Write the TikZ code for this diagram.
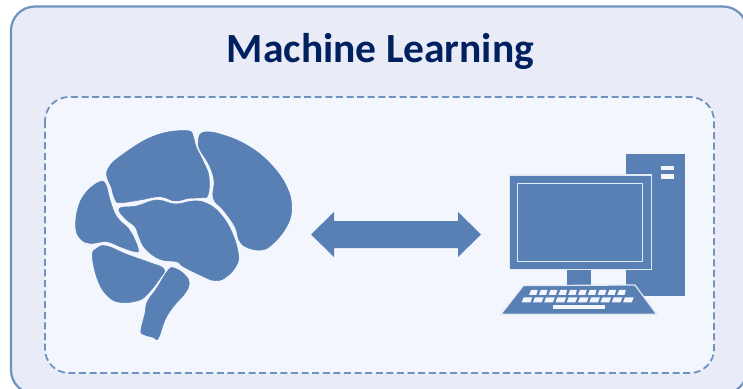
\documentclass[tikz,border=0pt]{standalone}
\usepackage{fontspec}
\setmainfont{Carlito}
\definecolor{outerfill}{HTML}{E9EBF6}
\definecolor{innerfill}{HTML}{F3F6FC}
\definecolor{linecol}{HTML}{6F93C0}
\definecolor{shapecol}{HTML}{5880B5}
\definecolor{lightline}{HTML}{E2E9F4}
\definecolor{titlecol}{HTML}{002060}
\tikzset{
  outerbox/.style={draw=linecol,fill=outerfill,line width=2.2pt,rounded corners=24pt},
  innerbox/.style={draw=linecol,fill=innerfill,line width=1.8pt,dash pattern=on 7pt off 3.6pt,rounded corners=24pt},
  part/.style={fill=shapecol,draw=none},
  keycap/.style={fill=innerfill,draw=none},
  lightedge/.style={draw=lightline,line width=1.2pt},
  lobe/.style={fill=shapecol,draw=shapecol,line width=.5pt},
}
\begin{document}
\begin{tikzpicture}[x=1pt,y=-1pt]
\useasboundingbox (0,0) rectangle (743,388);
\fill[white] (0,0) rectangle (743,388);
\begin{scope}
\clip (0,0) rectangle (743,388);
\draw[outerbox] (11,6.5) rectangle (747,394);
\draw[innerbox] (45,97) rectangle (714,373);
\end{scope}
\node (title) [text=titlecol,font=\bfseries\fontsize{41.5}{46}\selectfont,inner sep=0pt] at (380.5,51) {Machine Learning};
% brain
\begin{scope}[shift={(60,120)},x=.3333pt,y=-.3333pt]
\draw[lobe] plot[smooth cycle,tension=.7] coordinates {(142,150)(200,95)(290,45)(380,32)(400,50)(408,80)(430,125)(447,170)(444,225)(425,233)(385,235)(345,243)(300,230)(240,240)(180,248)(165,238)(155,205)};
\draw[lobe] plot[smooth cycle,tension=.7] coordinates {(415,60)(430,37)(480,42)(560,75)(630,130)(680,200)(695,265)(680,320)(640,370)(605,390)(560,382)(537,360)(525,320)(490,270)(460,235)(462,180)(445,130)(420,90)};
\draw[lobe] plot[smooth cycle,tension=.7] coordinates {(178,265)(230,258)(290,240)(345,252)(400,243)(440,250)(480,280)(515,335)(535,400)(530,435)(500,470)(465,482)(420,465)(370,440)(350,425)(300,418)(255,385)(235,345)(225,320)(195,295)};
\draw[lobe] plot[smooth cycle,tension=.7] coordinates {(47,320)(55,260)(80,215)(120,185)(138,195)(150,240)(170,290)(205,325)(218,345)(235,388)(225,395)(180,380)(140,365)(90,370)(60,355)};
\draw[lobe] plot[smooth cycle,tension=.7] coordinates {(97,410)(110,385)(140,378)(200,403)(270,428)(312,447)(300,475)(260,525)(230,543)(180,547)(145,530)(115,485)};
\draw[lobe] plot[smooth cycle,tension=.7] coordinates {(262,545)(290,505)(325,450)(345,445)(375,465)(388,490)(375,520)(340,560)(315,600)(295,655)(280,652)(250,643)(243,630)(255,580)};
\end{scope}
% double arrow
\fill[part] (311,234.5) -- (334,212) -- (334,221) -- (458,221) -- (458,212) -- (481,234.5) -- (458,257) -- (458,248) -- (334,248) -- (334,257) -- cycle;
% computer
\begin{scope}[shift={(490,145)},x=.3333pt,y=-.3333pt]
\fill[part] (408,28) rectangle (584,453);
\fill[keycap] (514,62) rectangle (552,75);
\fill[keycap] (514,88) rectangle (552,102);
\fill[part] (232,370) rectangle (302,425);
\path[part,lightedge] (58,90) rectangle (485,373);
\draw[lightedge] (83,116) rectangle (458,349);
\path[part,lightedge] (100,422) -- (435,420) -- (500,508) -- (33,508) -- cycle;
\foreach \i in {0,...,9}{
  \fill[keycap] ({117+\i*29.4},450) -- ({123+\i*29.4},435) -- ({143+\i*29.4},435) -- ({139+\i*29.4},450) -- cycle;
  \fill[keycap] ({95+\i*33.8},472) -- ({101+\i*33.8},457) -- ({127+\i*33.8},457) -- ({121+\i*33.8},472) -- cycle;
}
\fill[keycap] (188,480) rectangle (345,493);
\end{scope}
\end{tikzpicture}
\end{document}
